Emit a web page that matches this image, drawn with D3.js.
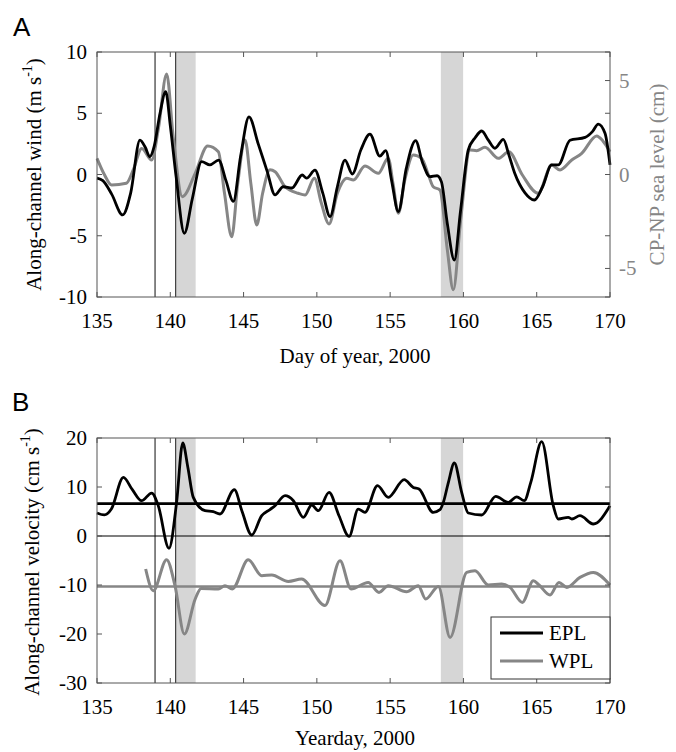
<!DOCTYPE html>
<html>
<head>
<meta charset="utf-8">
<script src="https://cdn.jsdelivr.net/npm/d3@7"></script>
<style>
  body { margin: 0; background: #fff; }
  text { font-family: "Liberation Serif", "Times New Roman", serif; }
</style>
</head>
<body>
<svg width="676" height="752"></svg>
<script>
// day of year, 2000 -> along-channel wind (m/s)
const wind = [[135.0,-0.3],[135.4,-0.5],[136.0,-1.6],[136.75,-3.3],[137.3,-1.5],[137.93,2.8],[138.3,2.2],[138.6,1.45],[138.9,2.3],[139.3,5.0],[139.69,6.76],[140.0,4.0],[140.4,-0.2],[140.96,-4.8],[141.5,-2.0],[142.14,1.05],[142.7,0.78],[143.3,1.18],[143.8,-0.5],[144.3,-2.2],[144.8,1.5],[145.37,4.7],[146.0,2.5],[146.6,0.3],[147.15,-1.67],[147.7,-1.0],[148.3,-1.1],[149.0,-0.04],[149.3,-0.3],[149.87,0.35],[150.4,-1.5],[150.9,-3.44],[151.4,-1.0],[151.92,1.18],[152.42,0.04],[153.0,2.0],[153.62,3.3],[154.3,1.5],[154.7,1.95],[155.1,-0.5],[155.56,-3.03],[156.1,0.5],[156.74,2.76],[157.2,1.0],[157.72,-0.18],[158.2,-0.1],[158.5,-0.6],[158.9,-4.0],[159.38,-6.98],[159.8,-3.0],[160.33,2.0],[160.8,3.0],[161.25,3.55],[161.7,2.8],[162.15,2.14],[162.72,2.87],[163.1,1.6],[163.5,0.1],[164.2,-1.5],[164.84,-2.08],[165.4,-1.0],[166.02,0.78],[166.47,0.78],[167.27,2.8],[168.3,3.03],[168.8,3.5],[169.2,4.12],[169.66,3.36],[170.0,0.78]];

// CP-NP sea level difference (cm)
const seaLevel = [[135.0,0.86],[135.5,0.0],[136.0,-0.56],[137.0,-0.47],[137.5,0.3],[138.05,1.39],[138.73,0.77],[139.2,2.5],[139.75,5.35],[140.2,2.0],[140.82,-1.18],[141.7,0.06],[142.55,1.52],[143.28,1.21],[143.7,-1.0],[144.19,-3.31],[144.6,-0.5],[145.1,1.84],[145.5,-0.5],[145.9,-2.69],[146.3,-1.0],[146.8,0.25],[147.15,0.15],[147.83,-0.65],[148.73,-1.0],[149.2,-1.09],[149.83,-0.2],[150.3,-1.5],[150.83,-2.63],[151.4,-1.0],[152.04,-0.2],[152.5,-0.29],[153.28,0.45],[154.19,0.06],[154.87,0.86],[155.2,-0.5],[155.56,-2.06],[156.0,-0.3],[156.58,1.04],[157.15,0.86],[157.6,0.0],[157.94,-0.65],[158.4,-0.83],[158.9,-4.0],[159.31,-6.14],[159.8,-2.5],[160.45,1.3],[160.9,1.27],[161.47,1.45],[162.38,0.86],[163.1,1.21],[164.0,0.0],[165.1,-1.0],[166.02,0.5],[166.59,0.24],[167.39,0.77],[168.07,1.13],[169.09,2.05],[169.5,1.8],[170.0,1.21]];

// along-channel velocity (cm/s)
const epl = [[135.0,4.7],[135.5,4.3],[135.98,5.5],[136.8,11.96],[137.4,9.5],[138.04,7.2],[138.73,8.77],[139.18,6.18],[139.91,-2.5],[140.43,6.86],[140.85,18.98],[141.2,14.0],[141.57,7.88],[142.37,5.16],[142.93,4.96],[143.39,4.49],[144.37,9.45],[144.9,5.0],[145.55,0.2],[146.24,4.14],[146.8,5.4],[147.15,6.18],[147.83,8.22],[148.4,7.2],[149.08,3.8],[149.65,6.33],[150.1,5.16],[150.83,8.9],[151.51,4.14],[152.2,-0.08],[152.82,5.5],[153.28,4.82],[154.14,10.27],[154.87,7.88],[155.96,11.49],[156.58,9.92],[156.97,9.59],[157.94,4.82],[158.4,5.37],[158.63,6.86],[158.97,10.9],[159.38,14.9],[159.88,8.9],[160.33,4.7],[161.25,4.29],[162.2,8.08],[163.06,6.86],[163.64,8.0],[164.15,7.2],[164.6,11.0],[165.34,19.24],[166.13,6.18],[166.47,3.47],[167.15,3.8],[167.4,3.47],[167.95,4.14],[168.86,2.45],[170.0,6.18]];

const wpl = [[138.32,-6.73],[138.84,-11.16],[139.75,-4.84],[140.32,-10.14],[140.96,-20.0],[141.7,-12.86],[142.1,-10.69],[143.28,-10.82],[143.73,-10.14],[144.23,-10.82],[145.32,-4.84],[146.24,-8.1],[146.92,-7.96],[148.05,-9.27],[148.96,-8.78],[150.55,-14.2],[151.58,-5.04],[152.33,-10.82],[153.5,-9.47],[154.24,-11.51],[154.87,-10.14],[156.12,-11.37],[156.92,-10.14],[157.42,-12.86],[158.29,-10.3],[159.09,-20.7],[160.22,-7.43],[160.79,-7.08],[161.7,-10.0],[162.61,-9.8],[163.18,-10.49],[164.02,-13.55],[164.77,-9.12],[165.16,-10.0],[165.91,-12.04],[166.52,-9.47],[167.05,-10.49],[167.95,-8.45],[168.86,-7.43],[170.0,-10.0]];

const eplMean = 6.6;
const wplMean = -10.3;
const eventLines = [138.96, 140.37];
const bands = [[140.42, 141.73], [158.46, 159.98]];
const xTicks = [135, 140, 145, 150, 155, 160, 165, 170];
const windTicks = [-10, -5, 0, 5, 10];
const seaTicks = [-5, 0, 5];
const velTicks = [-30, -20, -10, 0, 10, 20];

const grey = "#868686";
const axisColor = "#555";
const fs = 21;
const svg = d3.select("svg");

const x = d3.scaleLinear().domain([135, 170]).range([97, 610]);
const yA = d3.scaleLinear().domain([-10, 10]).range([297, 52]);
const yA2 = d3.scaleLinear().domain([-6.52, 6.52]).range([297, 52]);
const yB = d3.scaleLinear().domain([-30, 20]).range([683, 438]);

function line(y) {
  return d3.line().x(d => x(d[0])).y(d => y(d[1])).curve(d3.curveMonotoneX);
}

function panel(top, bottom) {
  const g = svg.append("g");
  // shaded events
  g.selectAll(".band").data(bands).enter().append("rect")
    .attr("x", d => x(d[0])).attr("width", d => x(d[1]) - x(d[0]))
    .attr("y", top).attr("height", bottom - top)
    .attr("fill", "#d6d6d6");
  g.selectAll(".ev").data(eventLines).enter().append("line")
    .attr("x1", d => x(d)).attr("x2", d => x(d))
    .attr("y1", top).attr("y2", bottom)
    .attr("stroke", "#222").attr("stroke-width", 1.1);
  return g;
}

function frame(y, top, bottom, leftTicks) {
  const g = svg.append("g");
  g.append("rect").attr("x", 97).attr("y", top).attr("width", 513).attr("height", bottom - top)
    .attr("fill", "none").attr("stroke", axisColor).attr("stroke-width", 1);
  g.selectAll(".xt").data(xTicks).enter().append("path")
    .attr("d", d => `M${x(d)},${bottom}v-5M${x(d)},${top}v5`)
    .attr("stroke", axisColor);
  g.selectAll(".xl").data(xTicks).enter().append("text")
    .attr("x", d => x(d)).attr("y", bottom + 31)
    .attr("text-anchor", "middle").attr("font-size", fs).text(d => d);
  g.selectAll(".yt").data(leftTicks).enter().append("path")
    .attr("d", d => `M97,${y(d)}h5M610,${y(d)}h-5`)
    .attr("stroke", axisColor);
  g.selectAll(".yl").data(leftTicks).enter().append("text")
    .attr("x", 87).attr("y", d => y(d) + 7)
    .attr("text-anchor", "end").attr("font-size", fs).text(d => d);
  return g;
}

// ---------- Panel A ----------
panel(52, 297);
svg.append("path").datum(seaLevel).attr("d", line(yA2))
  .attr("fill", "none").attr("stroke", grey).attr("stroke-width", 3);
svg.append("path").datum(wind).attr("d", line(yA))
  .attr("fill", "none").attr("stroke", "#000").attr("stroke-width", 2.8);
frame(yA, 52, 297, windTicks);
svg.selectAll(".rt").data(seaTicks).enter().append("path")
  .attr("d", d => `M610,${yA2(d)}h-5`).attr("stroke", axisColor);
svg.selectAll(".rl").data(seaTicks).enter().append("text")
  .attr("x", 619).attr("y", d => yA2(d) + 7)
  .attr("font-size", fs).attr("fill", grey).text(d => d);

svg.append("text").attr("x", 13).attr("y", 36)
  .style("font-family", "'Liberation Sans', Arial, sans-serif")
  .attr("font-size", 26).text("A");

const yLabA = svg.append("text")
  .attr("transform", `translate(41,${(52 + 297) / 2}) rotate(-90)`)
  .attr("text-anchor", "middle").attr("font-size", fs);
yLabA.append("tspan").text("Along-channel wind (m s");
yLabA.append("tspan").attr("dy", -9).attr("font-size", 14).text("-1");
yLabA.append("tspan").attr("dy", 9).text(")");

svg.append("text")
  .attr("transform", `translate(664,${(52 + 297) / 2}) rotate(-90)`)
  .attr("text-anchor", "middle").attr("font-size", fs).attr("fill", grey)
  .text("CP-NP sea level (cm)");

svg.append("text").attr("x", 355).attr("y", 363)
  .attr("text-anchor", "middle").attr("font-size", fs).text("Day of year, 2000");

// ---------- Panel B ----------
panel(438, 683);
svg.append("line").attr("x1", 97).attr("x2", 610).attr("y1", yB(0)).attr("y2", yB(0))
  .attr("stroke", "#000").attr("stroke-width", 1.2);
svg.append("line").attr("x1", 97).attr("x2", 610).attr("y1", yB(eplMean)).attr("y2", yB(eplMean))
  .attr("stroke", "#000").attr("stroke-width", 2.6);
svg.append("line").attr("x1", 97).attr("x2", 610).attr("y1", yB(wplMean)).attr("y2", yB(wplMean))
  .attr("stroke", grey).attr("stroke-width", 2.6);
svg.append("path").datum(wpl).attr("d", line(yB))
  .attr("fill", "none").attr("stroke", grey).attr("stroke-width", 3);
svg.append("path").datum(epl).attr("d", line(yB))
  .attr("fill", "none").attr("stroke", "#000").attr("stroke-width", 2.8);
frame(yB, 438, 683, velTicks);

svg.append("text").attr("x", 12).attr("y", 411)
  .style("font-family", "'Liberation Sans', Arial, sans-serif")
  .attr("font-size", 26).text("B");

const yLabB = svg.append("text")
  .attr("transform", `translate(39,562) rotate(-90)`)
  .attr("text-anchor", "middle").attr("font-size", fs);
yLabB.append("tspan").text("Along-channel velocity (cm s");
yLabB.append("tspan").attr("dy", -9).attr("font-size", 14).text("-1");
yLabB.append("tspan").attr("dy", 9).text(")");

svg.append("text").attr("x", 355).attr("y", 745)
  .attr("text-anchor", "middle").attr("font-size", fs).text("Yearday, 2000");

// legend
const legend = svg.append("g");
legend.append("rect").attr("x", 491).attr("y", 617).attr("width", 119).attr("height", 62)
  .attr("fill", "#fff").attr("stroke", "#333").attr("stroke-width", 1);
const legItems = [["EPL", "#000"], ["WPL", grey]];
legItems.forEach((d, i) => {
  const yy = 633 + i * 28;
  legend.append("line").attr("x1", 500).attr("x2", 543).attr("y1", yy).attr("y2", yy)
    .attr("stroke", d[1]).attr("stroke-width", 3);
  legend.append("text").attr("x", 549).attr("y", yy + 7).attr("font-size", fs).text(d[0]);
});
</script>
</body>
</html>
